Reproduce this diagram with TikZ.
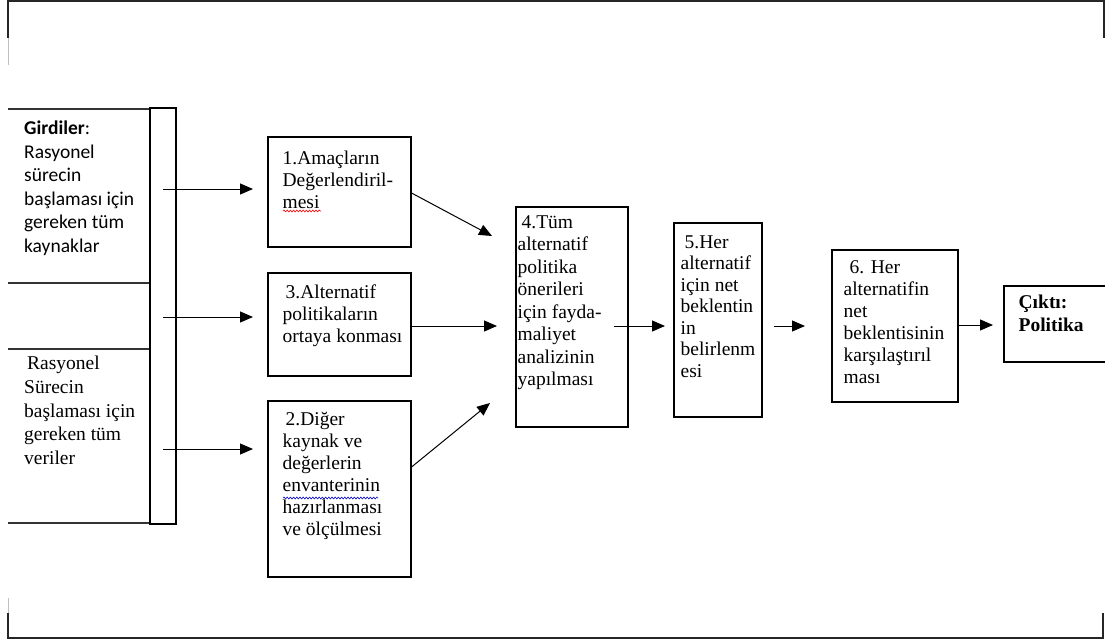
\documentclass[tikz,border=0pt]{standalone}
\usepackage{fontspec}
\setmainfont{Liberation Serif}
\newfontfamily\calfont{Carlito}
\usetikzlibrary{arrows.meta,decorations.pathmorphing,calc}

\begin{document}
\begin{tikzpicture}[x=1pt,y=-1pt,
  box/.style={draw, line width=1.1pt, inner sep=0pt},
  bar/.style={draw, line width=2.6pt, inner sep=0pt, minimum width=26pt, minimum height=416pt},
  txt/.style={anchor=north west, inner sep=0pt, align=left, font=\fontsize{19.5}{22}\selectfont},
  sanstxt/.style={anchor=north west, inner sep=0pt, align=left, font=\calfont\fontsize{19.5}{23.5}\selectfont},
  arr/.style={line width=1pt, -{Triangle[length=13pt,width=11pt]}},
  frame/.style={line width=1.4pt, draw=black!85},
  cell/.style={line width=1.2pt, draw=black!80},
  wavy/.style={decorate, decoration={snake, amplitude=0.9pt, segment length=3.2pt}, line width=0.6pt},
]
\useasboundingbox (0,0) rectangle (1105,640);

% page frame pieces
\draw[frame] (8,38) -- (8,1) -- (1104,1) -- (1104,38);
\draw[black!25, line width=0.8pt] (8,38) -- (8,65);
\draw[frame] (8,613) -- (8,638) -- (1103,638) -- (1103,613);
\draw[black!25, line width=0.8pt] (8,598) -- (8,613);

% input column
\node[bar] (bar) at (163,316) {};
\draw[cell] (8,109) -- (bar.west |- 0,109);
\draw[cell] (8,283) -- (bar.west |- 0,283);
\draw[cell] (8,349) -- (bar.west |- 0,349);
\draw[cell] (8,523) -- (bar.west |- 0,523);

\node[sanstxt] (in1) at (24,121) {\textbf{Girdiler}:\\Rasyonel\\sürecin\\başlaması için\\gereken tüm\\kaynaklar};
\node[txt, font=\fontsize{19.5}{23.7}\selectfont] (in2) at (24,356) {\hspace{3pt}Rasyonel\\Sürecin\\başlaması için\\gereken tüm\\veriler};

% process boxes
\node[box, minimum width=143pt, minimum height=110pt] (b1) at (339.5,192) {};
\node[box, minimum width=143pt, minimum height=103pt] (b3) at (339.5,324.5) {};
\node[box, minimum width=143pt, minimum height=176pt] (b2) at (339.5,489) {};
\node[box, minimum width=112pt, minimum height=220pt] (b4) at (572,317) {};
\node[box, minimum width=88pt, minimum height=194pt] (b5) at (718,320) {};
\node[box, minimum width=126pt, minimum height=152pt] (b6) at (895,326) {};
\node[box, minimum width=104pt, minimum height=76pt] (b7) at (1056,324) {};

\node[txt] (t1) at ([shift={(15,14)}]b1.north west) {1.Amaçların\\Değerlendiril-\\mesi};
\node[txt] (t3) at ([shift={(15,12)}]b3.north west) {\hspace{3pt}3.Alternatif\\politikaların\\ortaya konması};
\node[txt] (t2) at ([shift={(15,12)}]b2.north west) {\hspace{3pt}2.Diğer\\kaynak ve\\değerlerin\\envanterinin\\hazırlanması\\ve ölçülmesi};
\node[txt, font=\fontsize{19.5}{22.5}\selectfont] (t4) at ([shift={(2,9)}]b4.north west) {\hspace{4pt}4.Tüm\\alternatif\\politika\\önerileri\\için fayda-\\maliyet\\analizinin\\yapılması};
\node[txt, font=\fontsize{19.5}{21.5}\selectfont] (t5) at ([shift={(7,13)}]b5.north west) {\hspace{4pt}5.Her\\alternatif\\için net\\beklentin\\in\\belirlenm\\esi};
\node[txt] (t6) at ([shift={(12,11)}]b6.north west) {\hspace{6pt}6. Her\\alternatifin\\net\\beklentisinin\\karşılaştırıl\\ması};
\node[txt, font=\bfseries\fontsize{19.5}{23}\selectfont] (t7) at ([shift={(15,9)}]b7.north west) {Çıktı:\\Politika};

% spell-check marks
\draw[wavy, red] (283,211) -- (321,211);
\draw[wavy, blue!80!black] (283,498) -- (378,498);

% arrow end points
\coordinate (e1) at (253,189);
\coordinate (e3) at (253,317);
\coordinate (e2) at (253,449);
\coordinate (f1) at (492,236);
\coordinate (f3) at (497,326);
\coordinate (f2) at (490,403);
\coordinate (g4) at (665,326);
\coordinate (g5) at (805,326);
\coordinate (g6) at (993,325);

% connectors
\draw[arr] (bar.center |- e1) -- (e1);
\draw[arr] (bar.center |- e3) -- (e3);
\draw[arr] (bar.center |- e2) -- (e2);
\draw[arr] (b1.east |- 0,193) -- (f1);
\draw[arr] (b3.east |- f3) -- (f3);
\draw[arr] (b2.east |- 0,467) -- (f2);
\draw[arr] ([xshift=-15pt]b4.east |- g4) -- (g4);
\draw[arr] ([xshift=11pt]b5.east |- g5) -- (g5);
\draw[arr] (b6.east |- g6) -- (g6);
\end{tikzpicture}
\end{document}
